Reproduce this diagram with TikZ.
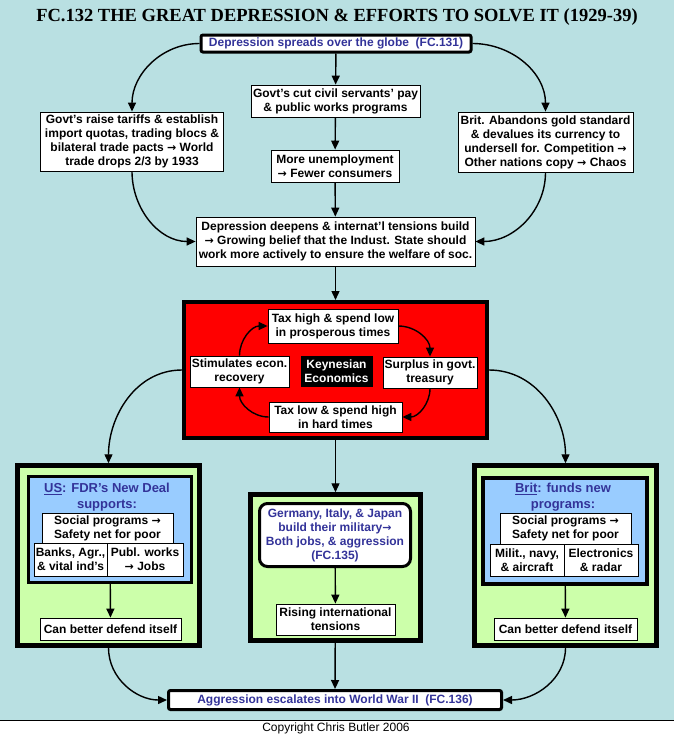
\documentclass[tikz,border=0pt]{standalone}
\usepackage{fontspec}
\setmainfont{Liberation Sans}
\newfontfamily\titlefont{Liberation Serif}
\newfontfamily\arrowfont{DejaVu Sans}
\newcommand\goes{{\arrowfont\bfseries\fontsize{11}{14}\selectfont →}}
\usepackage{tikz}
\usetikzlibrary{arrows.meta,calc}
\definecolor{sky}{RGB}{185,224,226}
\definecolor{leaf}{RGB}{204,255,170}
\definecolor{pale}{RGB}{153,204,255}
\definecolor{ink}{RGB}{51,51,153}

\begin{document}
\begin{tikzpicture}[x=1pt,y=1pt]
\tikzset{
	box/.style = {draw, fill=white, line width=0.8pt, align=center, inner sep=0pt, font=\bfseries\fontsize{12}{14}\selectfont},
	sz/.style 2 args = {minimum width=#1, minimum height=#2},
	frame/.style = {draw, line width=4.5pt, fill=leaf},
	inner/.style = {draw, line width=3pt, fill=pale},
	head/.style = {align=center, text=ink, font=\bfseries\fontsize{13}{16}\selectfont},
	link/.style = {line width=1.4pt, -{Triangle[length=9pt,width=8pt]}}
}
\useasboundingbox (0,0) rectangle (674,-737);
\fill[sky] (0,0) rectangle (674,-720);
\draw[line width=0.8pt] (0,-720) -- (674,-720);
\node[font=\titlefont\bfseries\fontsize{18.5}{20}\selectfont] (title) at (337,-17) {FC.132 THE GREAT DEPRESSION \& EFFORTS TO SOLVE IT (1929-39)};
\node[font=\fontsize{12}{14}\selectfont] (copy) at (336,-728.5) {Copyright Chris Butler 2006};

\node[box, sz={270}{17}, line width=3pt, rounded corners=2pt, text=ink] (top) at (336,-43.5) {Depression spreads over the globe\ \ (FC.131)};
\node[box, sz={183}{59}] (tar) at (132,-141.5) {Govt's raise tariffs \& establish\\import quotas, trading blocs \&\\bilateral trade pacts \goes{} World\\trade drops 2/3 by 1933};
\node[box, sz={169}{32}] (cut) at (335.5,-101) {Govt's cut civil servants' pay\\\& public works programs};
\node[box, sz={128}{32}] (unemp) at (335,-166) {More unemployment\\\goes{} Fewer consumers};
\node[box, sz={175}{60}] (gold) at (545.5,-142) {Brit. Abandons gold standard\\\& devalues its currency to\\undersell for. Competition \goes\\Other nations copy \goes{} Chaos};
\node[box, sz={279}{49}] (deep) at (335.5,-241.5) {Depression deepens \& internat'l tensions build\\\goes{} Growing belief that the Indust. State should\\work more actively to ensure the welfare of soc.};

\node[draw, line width=4pt, fill=red, sz={303}{136}] (keyn) at (335.5,-370) {};
\node[box, sz={130}{34}] (high) at (333,-326) {Tax high \& spend low\\in prosperous times};
\node[box, sz={99}{31}] (stim) at (239.5,-371.5) {Stimulates econ.\\recovery};
\node[box, sz={71}{30}, fill=black, text=white] (eco) at (336.5,-371) {Keynesian\\Economics};
\node[box, sz={94}{31}] (surp) at (430,-372.5) {Surplus in govt.\\treasury};
\node[box, sz={133}{30}] (low) at (335.5,-417) {Tax low \& spend high\\in hard times};

\node[frame, sz={182}{180}] (us) at (108.5,-555.5) {};
\node[inner, sz={163}{106}] (usin) at (110,-529.5) {};
\node[head] (ushead) at (107,-497) {\underline{US}: FDR's New Deal\\supports:};
\node[box, sz={131}{31}] (socl) at (107.5,-528.5) {Social programs \goes\\Safety net for poor};
\node[box, sz={73}{33}] (bank) at (70.5,-559.5) {Banks, Agr.,\\\& vital ind's};
\node[box, sz={76}{33}] (publ) at (145,-559.5) {Publ. works\\\goes{} Jobs};
\node[box, sz={141}{22}] (defl) at (110.5,-629) {Can better defend itself};

\node[frame, sz={170}{146}] (axis) at (335.5,-567.5) {};
\node[box, sz={151}{63}, line width=3pt, rounded corners=8pt, text=ink] (mil) at (335,-535) {Germany, Italy, \& Japan\\build their military\goes\\Both jobs, \& aggression\\(FC.135)};
\node[box, sz={119}{31}] (rise) at (335.5,-619.5) {Rising international\\tensions};

\node[frame, sz={182}{180}] (brit) at (565.5,-555.5) {};
\node[inner, line width=4pt, sz={164}{106}] (britin) at (565,-531) {};
\node[head] (brithead) at (563,-497) {\underline{Brit}: funds new\\programs:};
\node[box, sz={131}{31}] (socr) at (565.5,-528.5) {Social programs \goes\\Safety net for poor};
\node[box, sz={74}{32}] (navy) at (527,-560) {Milit., navy,\\\& aircraft};
\node[box, sz={74}{32}] (elec) at (601,-560) {Electronics\\\& radar};
\node[box, sz={143}{22}] (defr) at (565.5,-629) {Can better defend itself};

\node[box, sz={333}{19}, line width=3pt, rounded corners=2pt, text=ink] (war) at (335,-700) {Aggression escalates into World War II\ \ (FC.136)};

\draw[link] (top.west) to[out=180,in=90] (tar.north);
\draw[link] (top.east) to[out=0,in=90] (gold.north);
\draw[link] (top) -- (cut);
\draw[link] (cut) -- (unemp);
\draw[link] (unemp) -- (deep);
\draw[link] (tar.south) to[out=-90,in=180] (deep.west);
\draw[link] (gold.south) to[out=-90,in=0] (deep.east);
\draw[link] (deep) -- (keyn);

\draw[link] (high.east) to[out=0,in=90] (surp.north);
\draw[link] (surp.south) to[out=-90,in=0] (low.east);
\draw[link] (low.west) to[out=180,in=-90] (stim.south);
\draw[link] (stim.north) to[out=90,in=180] (high.west);

\draw[link] (keyn.west) to[out=180,in=90] (us.north);
\draw[link] (keyn.east) to[out=0,in=90] (brit.north);
\draw[link] (keyn) -- (axis);
\draw[link] (usin) -- (defl);
\draw[link] (mil) -- (rise);
\draw[link] (britin) -- (defr);
\draw[link] (us.south) to[out=-90,in=180] (war.west);
\draw[link] (brit.south) to[out=-90,in=0] (war.east);
\draw[link] (axis) -- (war);
\end{tikzpicture}
\end{document}
